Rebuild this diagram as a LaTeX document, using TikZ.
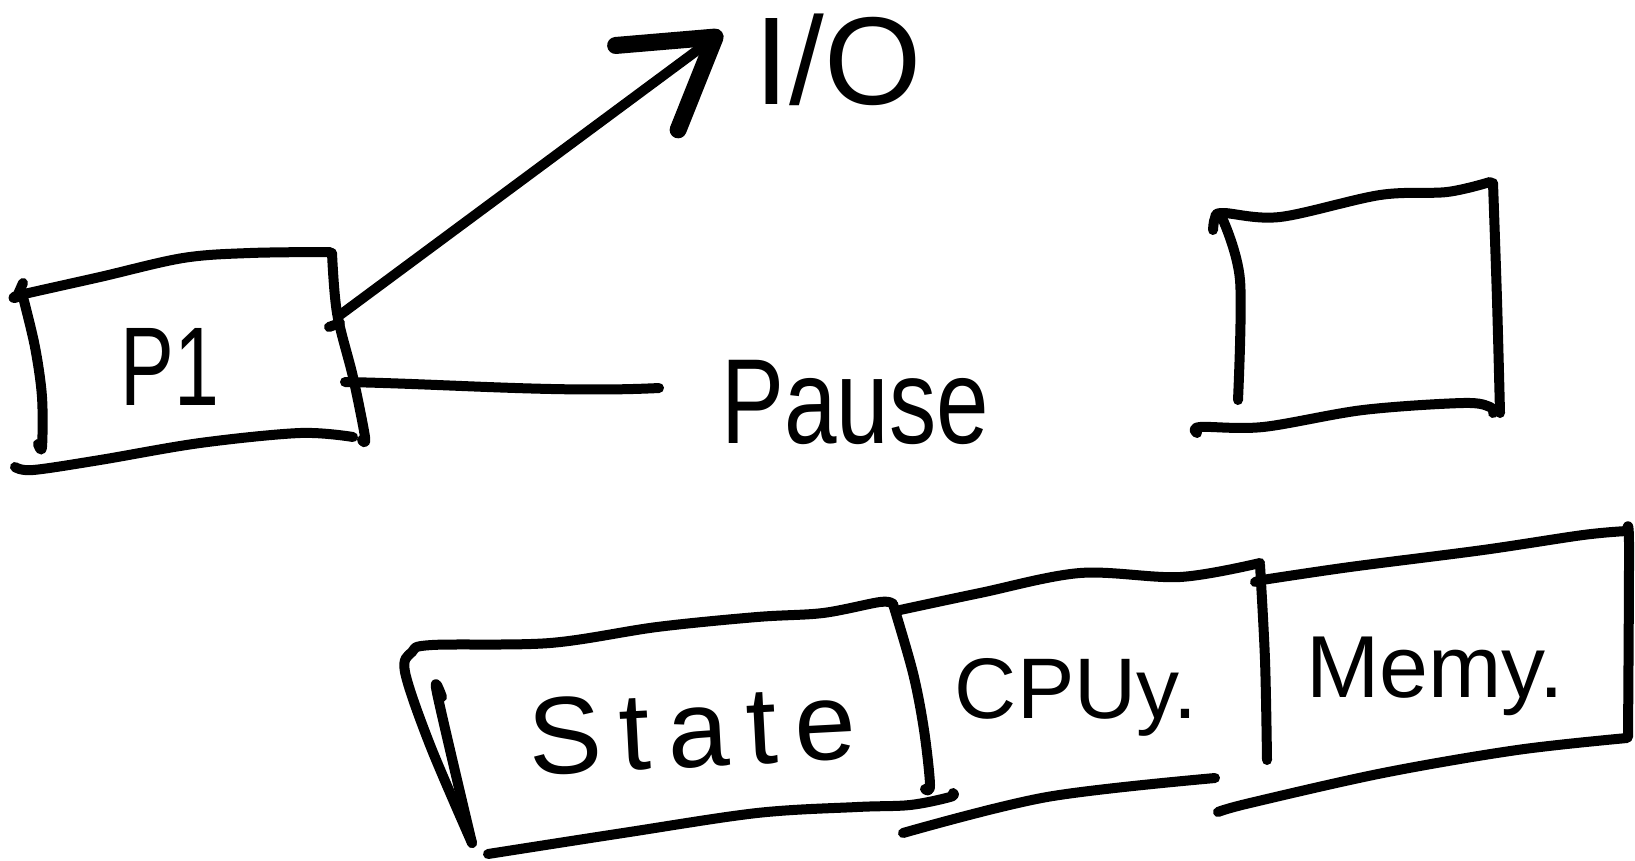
\documentclass[tikz,border=0pt]{standalone}
\usepackage{fontspec}
\setmainfont{Liberation Sans}
\newfontfamily\spacedfont[LetterSpace=16]{Liberation Sans}
\usetikzlibrary{arrows.meta}
\begin{document}
\begin{tikzpicture}[x=1pt,y=1pt,
  ink/.style={line width=10pt, line cap=round, line join=round},
  sketch/.style={ink, smooth, tension=0.55},
  txt/.style={inner sep=0pt, anchor=base},
  barb/.style={-{Straight Barb[length=85pt,width=105pt,line width=17pt,round]}}]
\useasboundingbox[fill=white] (0,0) rectangle (1635,-860);

% ---- P1 box ----
\draw[sketch] plot coordinates {(23,-283) (17,-297) (20,-295) (100,-277) (183,-258) (250,-253) (330,-252)};
\draw[sketch] plot coordinates {(332,-253) (337,-313) (353,-377) (365,-437) (362,-440)};
\draw[sketch] plot coordinates {(23,-297) (35,-347) (42,-397) (42,-447) (38,-444)};
\draw[sketch] plot coordinates {(15,-467) (33,-470) (100,-460) (200,-443) (300,-433) (353,-437)};
\draw[ink] (329,-327) -- (340,-323);
\node[txt, font=\fontsize{112}{120}\selectfont, xscale=0.72, transform shape] (p1) at (170,-405) {P1};
\coordinate (p1a) at (340,-315);
\coordinate (p1b) at (345,-382);

% ---- I/O and Pause ----
\node[txt, font=\fontsize{125}{130}\selectfont] (io) at (838,-104) {I/O};
\coordinate (ioTip) at (722,-32);
\node[txt, font=\fontsize{121}{130}\selectfont, xscale=0.78, transform shape] (pause) at (855,-443) {Pause};
\coordinate (pauseEnd) at (659,-388);

\draw[ink, barb] (p1a) -- (ioTip);
\draw[ink] (p1b) .. controls (450,-384) and (560,-393) .. (pauseEnd);

% ---- right empty box ----
\draw[sketch] plot coordinates {(1213,-230) (1215,-218) (1223,-213) (1280,-217) (1380,-195) (1447,-192) (1490,-182)};
\draw[sketch] plot coordinates {(1493,-183) (1497,-300) (1500,-413)};
\draw[sketch] plot coordinates {(1223,-220) (1240,-280) (1238,-400)};
\draw[sketch] plot coordinates {(1197,-433) (1200,-427) (1263,-427) (1363,-410) (1463,-403) (1490,-407) (1493,-413)};

% ---- State box ----
\draw[sketch] plot coordinates {(472,-843) (430,-745) (405,-672) (412,-652) (432,-645) (550,-643) (657,-627) (757,-617) (823,-613) (880,-602) (893,-604)};
\draw[sketch] plot coordinates {(442,-697) (437,-693) (472,-843)};
\draw[sketch] plot coordinates {(893,-604) (913,-673) (924,-730) (930,-785) (925,-789)};
\draw[sketch] plot coordinates {(488,-854) (623,-833) (757,-813) (857,-807) (910,-805) (950,-797) (953,-793)};
\node[txt, font=\spacedfont\fontsize{110}{120}\selectfont, rotate=3] (state) at (694,-767) {State};

% ---- CPU box ----
\draw[sketch] plot coordinates {(900,-610) (980,-593) (1080,-573) (1180,-577) (1260,-563)};
\draw[sketch] plot coordinates {(1260,-565) (1265,-660) (1267,-760)};
\draw[ink] (1255,-582) -- (1262,-580);
\draw[sketch] plot coordinates {(903,-833) (1047,-797) (1215,-778)};
\node[txt, font=\fontsize{86}{92}\selectfont] (cpu) at (1076,-718) {CPUy.};

% ---- Mem box ----
\draw[sketch] plot coordinates {(1262,-580) (1350,-567) (1483,-550) (1583,-535) (1627,-531)};
\draw[sketch] plot coordinates {(1627,-531) (1629,-545) (1628,-737)};
\draw[sketch] plot coordinates {(1218,-812) (1250,-803) (1383,-773) (1517,-750) (1627,-738)};
\node[txt, font=\fontsize{88}{92}\selectfont] (mem) at (1435,-697) {Memy.};
\end{tikzpicture}
\end{document}
